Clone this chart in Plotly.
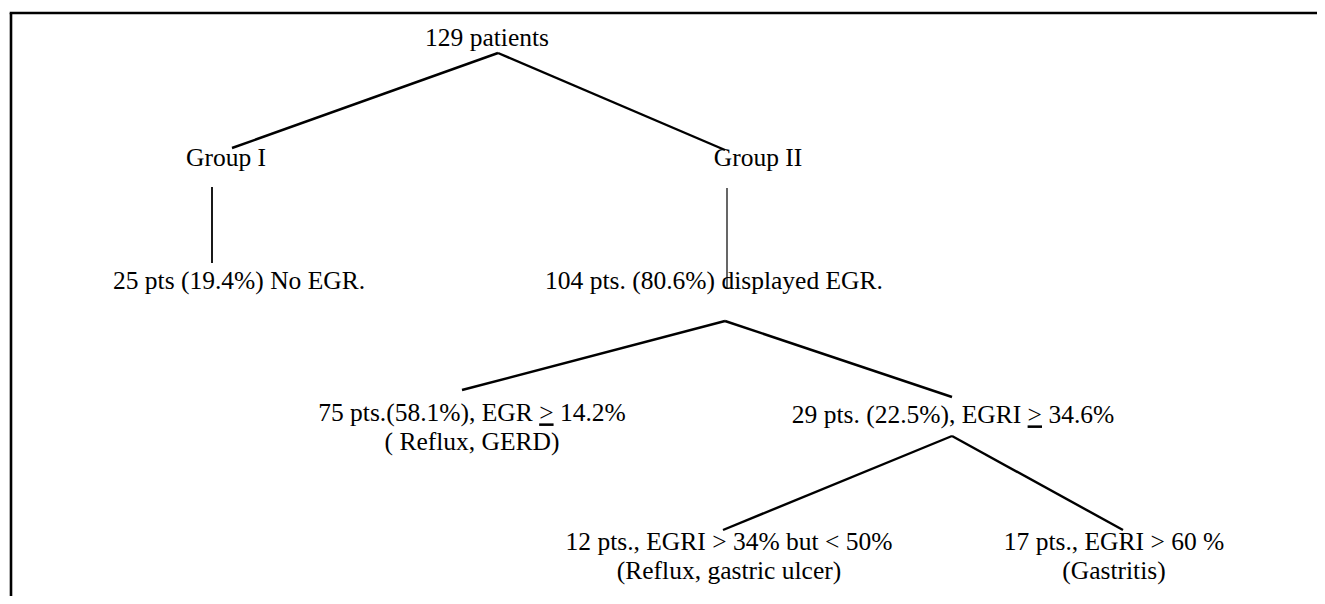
import plotly.graph_objects as go

# ---- data: tree nodes and structure ----
node_labels = [
    "129 patients",
    "Group I",
    "Group II",
    "25 pts (19.4%) No EGR.",
    "104 pts. (80.6%) displayed EGR.",
    "75 pts.(58.1%), EGR <span style='text-decoration:underline'>&gt;</span> 14.2%<br>( Reflux, GERD)",
    "29 pts. (22.5%), EGRI <span style='text-decoration:underline'>&gt;</span> 34.6%",
    "12 pts., EGRI &gt; 34% but &lt; 50%<br>(Reflux, gastric ulcer)",
    "17 pts., EGRI &gt; 60 %<br>(Gastritis)",
]
node_parent = [None, 0, 0, 1, 2, 4, 4, 6, 6]

# ---- layout (screen pixel space) ----
text_x = [487, 226, 758, 239, 714, 472, 953, 729, 1114]
text_y = [40, 160, 160, 283, 283, 415, 417, 544, 544]   # y of first line
LINE_GAP = 29
# anchors where connecting lines start (bottom of parent) / end (top of child)
bottom_anchor = [(498, 53), (212, 187), (727, 188), None, (725, 321), None, (952, 436), None, None]
top_anchor = [None, (232, 148), (725, 150), (212, 263), (727, 288), (462, 390), (952, 397), (723, 530), (1123, 530)]
edge_width = [None, 2.4, 2.4, 1.8, 1.2, 2.4, 2.4, 2.4, 2.4]

PAGE_OFF = 8               # default page margin around the figure
W, H = 1325 - 2 * PAGE_OFF, 604 - 2 * PAGE_OFF
FONT = "Liberation Serif, Times New Roman, serif"

fig = go.Figure()

# connecting lines
for i, p in enumerate(node_parent):
    if p is None:
        continue
    (x0, y0) = bottom_anchor[p]
    (x1, y1) = top_anchor[i]
    fig.add_trace(go.Scatter(
        x=[x0, x1], y=[y0, y1], mode="lines",
        line=dict(color="black", width=edge_width[i]),
        hoverinfo="skip", showlegend=False,
    ))

# node labels (one text mark per line, to control the line gap)
lx, ly, lt = [], [], []
for lab, x, y in zip(node_labels, text_x, text_y):
    for k, part in enumerate(lab.split("<br>")):
        lx.append(x)
        ly.append(y + k * LINE_GAP)
        lt.append(part)
fig.add_trace(go.Scatter(
    x=lx, y=ly, mode="text", text=lt,
    textposition="middle center",
    textfont=dict(family=FONT, size=25.5, color="black"),
    hoverinfo="skip", showlegend=False, cliponaxis=False,
))

# frame (left and top edges visible)
fig.add_shape(type="line", x0=11, y0=700, x1=11, y1=13,
              line=dict(color="black", width=2.6), layer="above")
fig.add_shape(type="line", x0=9.7, y0=13, x1=1400, y1=13,
              line=dict(color="black", width=2.6), layer="above")

fig.update_layout(
    width=W, height=H,
    margin=dict(l=0, r=0, t=0, b=0),
    paper_bgcolor="white", plot_bgcolor="white",
    xaxis=dict(range=[PAGE_OFF, PAGE_OFF + W], visible=False, fixedrange=True),
    yaxis=dict(range=[PAGE_OFF + H, PAGE_OFF], visible=False, fixedrange=True),
    showlegend=False,
)

fig.write_html("out.html")
